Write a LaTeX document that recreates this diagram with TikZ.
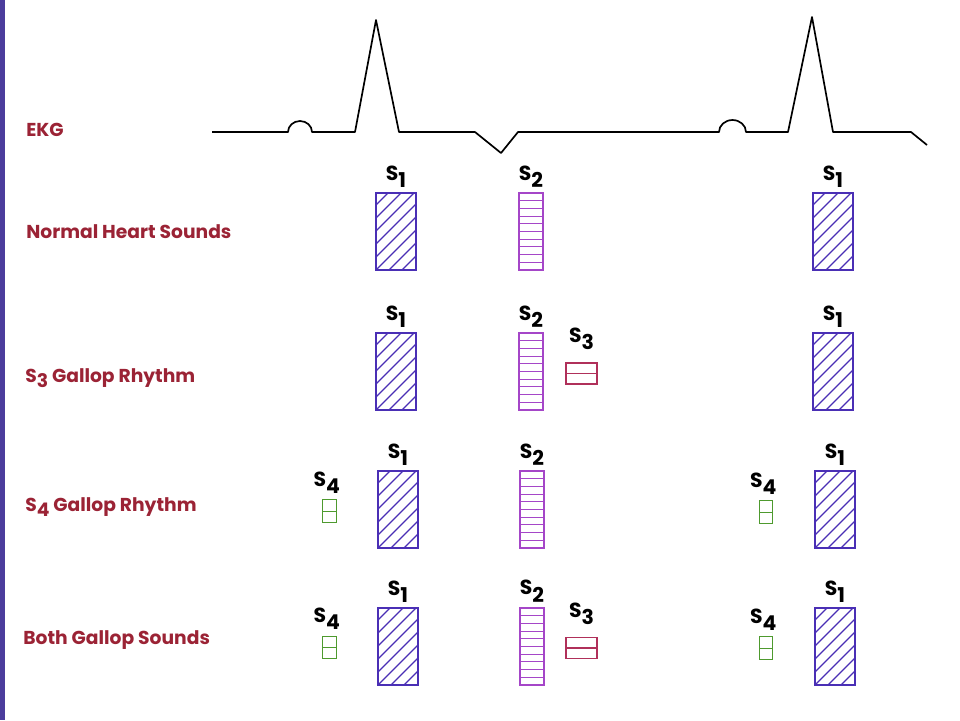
\documentclass[tikz,border=0pt]{standalone}
\usepackage{fontspec}
\setmainfont{Poppins}
\usepackage{tikz}
\usetikzlibrary{positioning,calc}

\definecolor{edgepurple}{HTML}{4B3C9C}
\definecolor{rowred}{HTML}{9B2335}
\definecolor{sonecol}{HTML}{4A2FB5}
\definecolor{stwocol}{HTML}{A546C8}
\definecolor{sthreecol}{HTML}{B0305A}
\definecolor{sfourcol}{HTML}{4E9A2E}

\begin{document}
\begin{tikzpicture}[
    x=0.25mm, y=-0.25mm,
    rowlabel/.style={
        anchor=west,
        text=rowred,
        inner sep=0pt,
        font=\fontsize{13.3}{15}\selectfont\bfseries
    },
    slabel/.style={
        inner sep=0pt,
        font=\fontsize{14.5}{16}\selectfont\bfseries
    },
    sone/.style={
        rectangle,
        draw=sonecol,
        line width=1pt,
        inner sep=0pt,
        minimum width=10mm,
        minimum height=19.25mm,
        path picture={
            \foreach \k in {-3,...,6}
                \draw[sonecol, line width=0.8pt]
                    ($(path picture bounding box.south west)+(0,\k*3.25mm)$) -- ++(25mm,25mm);
        }
    },
    stwo/.style={
        rectangle,
        draw=stwocol,
        line width=1pt,
        inner sep=0pt,
        minimum width=6mm,
        minimum height=19.25mm,
        path picture={
            \foreach \k in {1,...,9}
                \draw[stwocol, line width=0.8pt]
                    ($(path picture bounding box.south west)+(0,\k*1.925mm)$) -- ++(6mm,0);
        }
    },
    sthree/.style={
        rectangle,
        draw=sthreecol,
        line width=1pt,
        inner sep=0pt,
        minimum width=7.75mm,
        minimum height=5.25mm,
        path picture={
            \draw[sthreecol, line width=0.8pt]
                (path picture bounding box.west) -- (path picture bounding box.east);
        }
    },
    sfour/.style={
        rectangle,
        draw=sfourcol,
        line width=0.9pt,
        inner sep=0pt,
        minimum width=3.4mm,
        minimum height=5.6mm,
        path picture={
            \draw[sfourcol, line width=0.6pt]
                (path picture bounding box.west) -- (path picture bounding box.east);
        }
    },
    ekg/.style={
        draw,
        line width=1.2pt,
        line join=round
    }
]

\useasboundingbox (0,0) rectangle (960,720);
\fill[white] (0,0) rectangle (960,720);
\fill[edgepurple] (0,0) rectangle (5,720);

% EKG trace
\draw[ekg] (212,132) -- (288,132) arc (180:360:12 and 11) -- (355,132) -- (376,20) -- (399,132)
    -- (475,132) -- (501,153) -- (518,132) -- (719,132) arc (180:360:13.5 and 12)
    -- (788,132) -- (812,17) -- (833,132) -- (911,132) -- (927,145);

% Row labels
\node[rowlabel] (ekglabel) at (26,130) {EKG};
\node[rowlabel] (normal) at (26,232) {Normal Heart Sounds};
\node[rowlabel] (sthreerow) at (25,378) {S\raisebox{-0.3em}{3} Gallop Rhythm};
\node[rowlabel] (sfourrow) at (25,507) {S\raisebox{-0.3em}{4} Gallop Rhythm};
\node[rowlabel] (both) at (23,640) {Both Gallop Sounds};

% Normal heart sounds
\node[sone] (na) at (396,231.5) {};
\node[stwo] (nb) at (531,231.5) {};
\node[sone] (nc) at (833,231.5) {};

% S3 gallop
\node[sone] (ta) at (396,371.5) {};
\node[stwo] (tb) at (531,371.5) {};
\node[sthree] (tc) at (581.5,373.5) {};
\node[sone] (td) at (833,371.5) {};

% S4 gallop
\node[sfour] (fa) at (329.5,511) {};
\node[sone] (fb) at (398,509.5) {};
\node[stwo] (fc) at (532,509.5) {};
\node[sfour] (fd) at (766,512) {};
\node[sone] (fe) at (835,509.5) {};

% Both gallops
\node[sfour] (ba) at (329.5,647.5) {};
\node[sone] (bb) at (398,646.5) {};
\node[stwo, line width=1.2pt] (bc) at (532,646.5) {};
\node[sthree] (bd) at (581.5,648) {};
\node[sfour] (be) at (766,648) {};
\node[sone] (bf) at (835,646.5) {};

% Sound labels
\foreach \n in {na,nc,ta,td,fb,fe,bb,bf}
    \node[slabel, above=1.2mm of \n] {S\raisebox{-0.35em}{1}};
\foreach \n in {nb,tb,fc,bc}
    \node[slabel, above=1.2mm of \n] {S\raisebox{-0.35em}{2}};
\foreach \n in {tc,bd}
    \node[slabel, above=3mm of \n] {S\raisebox{-0.35em}{3}};
\foreach \n in {fa,fd,ba,be}
    \node[slabel, above=1.4mm of \n, xshift=-0.7mm] {S\raisebox{-0.35em}{4}};

\end{tikzpicture}
\end{document}
